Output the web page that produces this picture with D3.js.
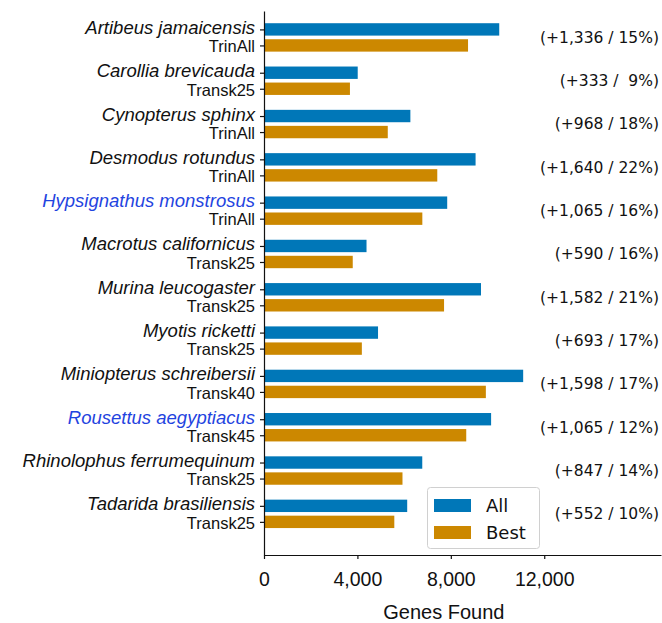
<!DOCTYPE html>
<html lang="en">
<head>
<meta charset="UTF-8">
<title>Genes Found</title>
<script src="https://cdn.jsdelivr.net/npm/d3@7"></script>
<style>
    body { margin: 0; background: white; }
    svg { display: block; }
    .axis text { font-family: "Liberation Sans", Arial, sans-serif; font-size: 19.5px; fill: #111; }
    .axis path, .axis line { stroke: #111; stroke-width: 1.2; }
    .species { font-family: "Liberation Sans", Arial, sans-serif; font-style: italic; font-size: 18.5px; }
    .method { font-family: "Liberation Sans", Arial, sans-serif; font-size: 16.5px; fill: #111; }
    .note { font-family: "DejaVu Sans", sans-serif; font-size: 15.5px; fill: #111; white-space: pre; }
    .legend text { font-family: "DejaVu Sans", sans-serif; font-size: 18px; fill: #111; }
</style>
</head>
<body>
<svg width="662" height="623"></svg>
<script>
    var species = ["Artibeus jamaicensis", "Carollia brevicauda", "Cynopterus sphinx", "Desmodus rotundus",
        "Hypsignathus monstrosus", "Macrotus californicus", "Murina leucogaster", "Myotis ricketti",
        "Miniopterus schreibersii", "Rousettus aegyptiacus", "Rhinolophus ferrumequinum", "Tadarida brasiliensis"];
    var methods = ["TrinAll", "Transk25", "TrinAll", "TrinAll", "TrinAll", "Transk25", "Transk25", "Transk25",
        "Transk40", "Transk45", "Transk25", "Transk25"];
    var highlighted = ["Hypsignathus monstrosus", "Rousettus aegyptiacus"];
    var allGenes = [10073, 4013, 6268, 9060, 7845, 4390, 9292, 4883, 11098, 9725, 6777, 6132];
    var bestGenes = [8737, 3680, 5300, 7420, 6780, 3800, 7710, 4190, 9500, 8660, 5930, 5580];
    var notes = ["(+1,336 / 15%)", "(+333 /  9%)", "(+968 / 18%)", "(+1,640 / 22%)", "(+1,065 / 16%)",
        "(+590 / 16%)", "(+1,582 / 21%)", "(+693 / 17%)", "(+1,598 / 17%)", "(+1,065 / 12%)",
        "(+847 / 14%)", "(+552 / 10%)"];
    var xTicks = [0, 4000, 8000, 12000];

    var blue = "#0077b8", orange = "#cc8800";
    var svg = d3.select("svg");

    var x = d3.scaleLinear().domain([0, 17000]).range([264, 661]);
    var y = d3.scaleLinear().domain([-0.61, 11.95]).range([11, 555]);
    var off = 0.185, bh = 0.286;

    // bars
    var rows = species.map(function (s, i) { return {i: i, all: allGenes[i], best: bestGenes[i]}; });
    svg.selectAll(".barAll").data(rows).enter().append("rect")
        .attr("x", x(0))
        .attr("y", function (d) { return y(d.i - off - bh / 2); })
        .attr("width", function (d) { return x(d.all) - x(0); })
        .attr("height", y(bh) - y(0))
        .attr("fill", blue);
    svg.selectAll(".barBest").data(rows).enter().append("rect")
        .attr("x", x(0))
        .attr("y", function (d) { return y(d.i + off - bh / 2); })
        .attr("width", function (d) { return x(d.best) - x(0); })
        .attr("height", y(bh) - y(0))
        .attr("fill", orange);

    // x axis
    var axisX = d3.axisBottom(x).tickValues(xTicks).tickFormat(d3.format(",")).tickSize(4).tickPadding(13).tickSizeOuter(0);
    svg.append("g").attr("class", "axis").attr("transform", "translate(0,555)").call(axisX);

    // y axis: ticks at each bar, labels drawn by hand
    var yTickVals = [];
    species.forEach(function (s, i) { yTickVals.push(i - off, i + off); });
    var axisY = d3.axisLeft(y).tickValues(yTickVals).tickFormat("").tickSize(4).tickSizeOuter(0);
    svg.append("g").attr("class", "axis").attr("transform", "translate(264,0)").call(axisY);

    svg.selectAll(".species").data(species).enter().append("text")
        .attr("class", "species")
        .attr("x", 255)
        .attr("y", function (d, i) { return y(i - off) - 2; })
        .attr("dy", "0.35em")
        .attr("text-anchor", "end")
        .attr("fill", function (d) { return highlighted.indexOf(d) >= 0 ? "#1f44e0" : "#111"; })
        .text(function (d) { return d; });
    svg.selectAll(".method").data(methods).enter().append("text")
        .attr("class", "method")
        .attr("x", 255)
        .attr("y", function (d, i) { return y(i + off) + 1; })
        .attr("dy", "0.35em")
        .attr("text-anchor", "end")
        .text(function (d) { return d; });

    svg.selectAll(".note").data(notes).enter().append("text")
        .attr("class", "note")
        .attr("x", 659)
        .attr("y", function (d, i) { return y(i); })
        .attr("dy", "0.35em")
        .attr("text-anchor", "end")
        .text(function (d) { return d; });

    svg.append("text")
        .attr("x", x(7700))
        .attr("y", 619)
        .attr("text-anchor", "middle")
        .style("font-family", "Liberation Sans, Arial, sans-serif")
        .style("font-size", "20px")
        .attr("fill", "#111")
        .text("Genes Found");

    // legend
    var lg = svg.append("g").attr("class", "legend");
    lg.append("rect").attr("x", 427.5).attr("y", 487.5).attr("width", 112).attr("height", 61)
        .attr("rx", 3).attr("fill", "white").attr("fill-opacity", 0.8).attr("stroke", "#d0d0d0");
    [["All", blue], ["Best", orange]].forEach(function (e, k) {
        lg.append("rect").attr("x", 434).attr("y", 499 + k * 27).attr("width", 37).attr("height", 13).attr("fill", e[1]);
        lg.append("text").attr("x", 486).attr("y", 505.5 + k * 27).attr("dy", "0.35em").text(e[0]);
    });
</script>
</body>
</html>
